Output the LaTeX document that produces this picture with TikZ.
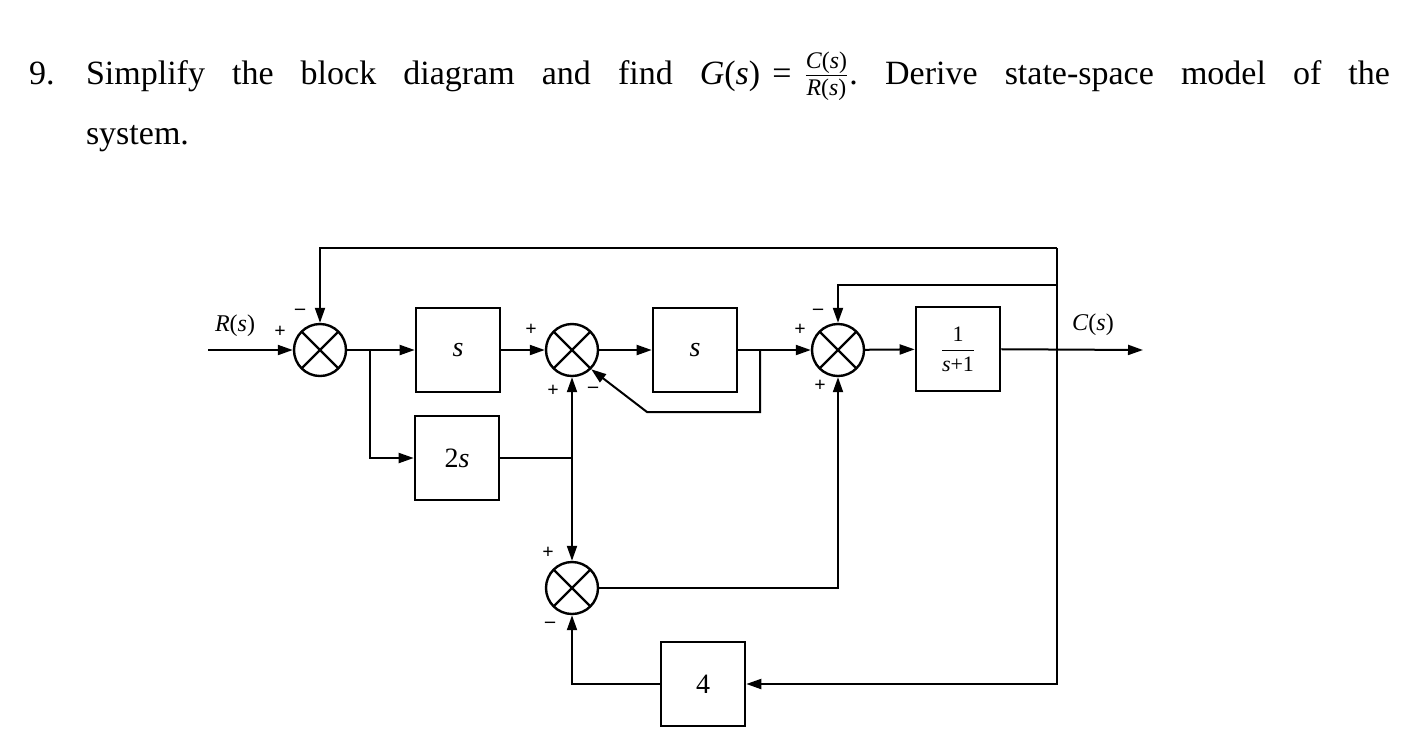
\documentclass[tikz,border=0pt]{standalone}
\usepackage{amsmath}
\usepackage{fontspec}
\setmainfont{Liberation Serif}
\usetikzlibrary{arrows.meta}
\frenchspacing

\begin{document}
\begin{tikzpicture}[x=0.5pt, y=-0.5pt, line width=1pt,
  block/.style={draw, line width=1.3pt, minimum width=42pt, minimum height=42pt, inner sep=0pt, font=\fontsize{14}{16}\selectfont},
  sum/.style={circle, draw, line width=1.2pt, minimum size=26pt, inner sep=0pt,
    path picture={\draw[line width=1.1pt] (path picture bounding box.north west)--(path picture bounding box.south east)
      (path picture bounding box.south west)--(path picture bounding box.north east);}},
  arr/.style={-{Triangle[length=7.5pt,width=5pt]}},
  sgn/.style={inner sep=0pt, font=\fontsize{10}{11}\bfseries\selectfont},
  lbl/.style={inner sep=0pt, font=\fontsize{12}{14}\selectfont}]
  \useasboundingbox (0,0) rectangle (1420,746);
  % question
  \node[anchor=base west, inner sep=0pt, font=\fontsize{17}{30}\selectfont] (num) at (28,84) {9.};
  \node[anchor=base west, inner sep=0pt, text width=652pt, align=justify, font=\fontsize{17}{30}\selectfont] (quest) at (85,84)
    {Simplify the block diagram and find \textit{G}(\textit{s})\hspace{6pt}{=}\hspace{6pt}$\frac{\text{\textit{C}(\textit{s})}}{\text{\textit{R}(\textit{s})}}$. Derive state-space model of the\linebreak system.};
  % summing junctions
  \node[sum] (s1) at (320,350) {};
  \node[sum] (s2) at (572,350) {};
  \node[sum] (s3) at (838,350) {};
  \node[sum] (s4) at (572,588) {};
  % blocks
  \node[block] (b1) at (458,350) {\textit{s}};
  \node[block] (b2) at (695,350) {\textit{s}};
  \node[block] (b3) at (958,349) {\fontsize{11}{13}\selectfont$\dfrac{\text{1}}{\text{\textit{s}+1}}$};
  \node[block] (b4) at (457,458) {2\textit{s}};
  \node[block] (b5) at (703,684) {4};
  % free ends and pick-off points
  \coordinate (in) at (208,350);
  \coordinate (out) at (1143,350);
  \coordinate (t1) at (1057,248);
  \coordinate (t2) at (1057,285);
  \coordinate (p1) at (370,350);
  \coordinate (p2) at (572,458);
  \coordinate (p3) at (760,350);
  \coordinate (k1) at (647,412);
  % forward path
  \draw[arr] (in) -- (s1);
  \draw[arr] (s1) -- (b1);
  \draw[arr] (b1) -- (s2);
  \draw[arr] (s2) -- (b2);
  \draw[arr] (b2) -- (s3);
  \draw[arr] (s3) -- (b3);
  \draw[arr] (b3) -- (out);
  % feedback loops
  \draw[arr] (t1) -| (s1);
  \draw[arr] (t2) -| (s3);
  \draw[arr] (t1) |- (b5);
  \draw[arr] (p3) |- (k1) -- (s2.south east);
  % 2s branch
  \draw[arr] (p1) |- (b4);
  \draw (b4) -- (p2);
  \draw[arr] (p2) -- (s2);
  \draw[arr] (p2) -- (s4);
  \draw[arr] (b5) -| (s4);
  \draw[arr] (s4) -| (s3);
  % signs
  \node[sgn] (g1) at (280,332) {+};
  \node[sgn] (g2) at (300,312) {--};
  \node[sgn] (g3) at (531,330) {+};
  \node[sgn] (g4) at (553,391) {+};
  \node[sgn] (g5) at (593,390) {--};
  \node[sgn] (g6) at (800,330) {+};
  \node[sgn] (g7) at (818,312) {--};
  \node[sgn] (g8) at (820,386) {+};
  \node[sgn] (g9) at (548,553) {+};
  \node[sgn] (g10) at (550,625) {--};
  % signals
  \node[lbl] (rs) at (235,326) {\textit{R}(\textit{s})};
  \node[lbl] (cs) at (1093,325) {\textit{C}(\textit{s})};
\end{tikzpicture}
\end{document}
